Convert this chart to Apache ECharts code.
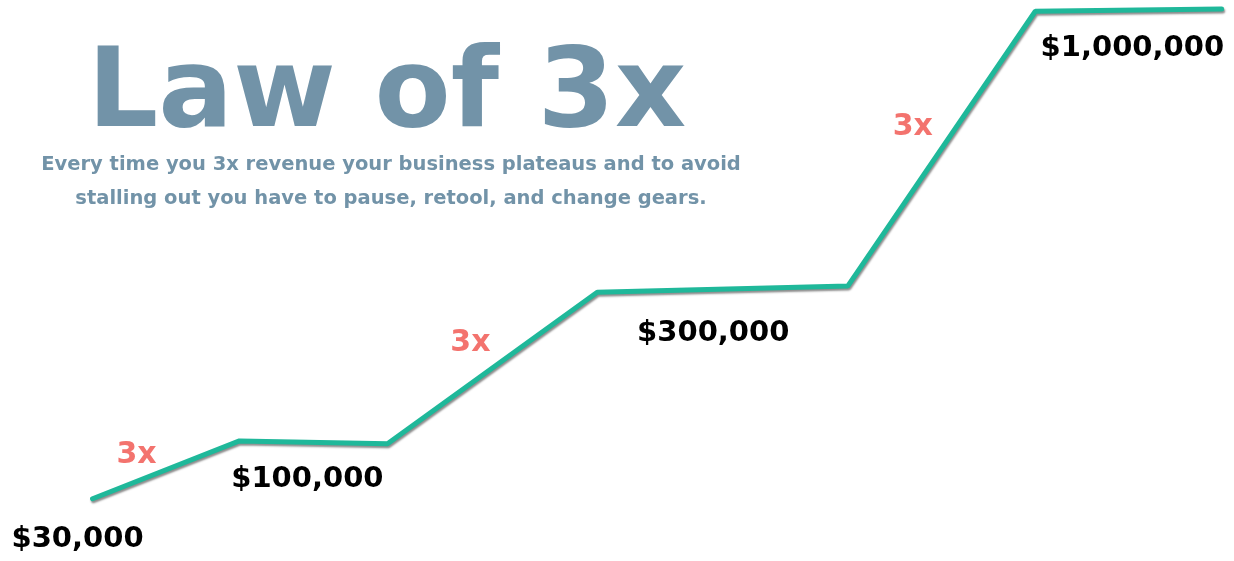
<!DOCTYPE html>
<html lang="en">
<head>
    <meta charset="UTF-8">
    <title>Law of 3x</title>
    <script src="https://cdn.jsdelivr.net/npm/echarts/dist/echarts.min.js"></script>
    <style>
        body { margin: 0; background: #ffffff; }
        #chart { width: 1234px; height: 561px; }
    </style>
</head>
<body>
<div id="chart"></div>
<script>
    // progress (x) and growth level (y), both on a 0-100 scale
    const progress = [7.5, 19.4, 31.4, 48.4, 68.7, 83.9, 99.0];
    const level = [11.1, 21.4, 20.9, 47.9, 49.0, 98.0, 98.4];
    // revenue label shown at each step ('' = none)
    const revenueLabels = ['$30,000', '$100,000', '', '$300,000', '', '$1,000,000', ''];
    // "3x" label at the start of each climb
    const multiplierLabels = ['3x', '', '3x', '', '3x', '', ''];

    const revenueOffsets = [[-15, 41], [68, 39], null, [116, 41], null, [97, 37], null];
    const multiplierOffsets = [[44, -44], null, [83, -101], null, [65, -159], null, null];

    const chart = echarts.init(document.getElementById('chart'));

    const labelFont = 'DejaVu Sans';

    const lineData = progress.map((x, i) => {
        const item = { value: [x, level[i]] };
        if (revenueLabels[i]) {
            item.label = {
                show: true,
                formatter: revenueLabels[i],
                position: 'inside',
                offset: revenueOffsets[i],
                color: '#000',
                fontFamily: labelFont,
                fontWeight: 'bold',
                fontSize: 29
            };
        }
        return item;
    });

    const multData = [];
    progress.forEach((x, i) => {
        if (multiplierLabels[i]) {
            multData.push({
                value: [x, level[i]],
                label: {
                    show: true,
                    formatter: multiplierLabels[i],
                    position: 'inside',
                    offset: multiplierOffsets[i],
                    color: '#f0504a',
                    fontFamily: labelFont,
                    fontWeight: 'bold',
                    fontSize: 30
                }
            });
        }
    });

    const option = {
        animation: false,
        backgroundColor: '#ffffff',
        title: [{
            text: 'Law of 3x',
            left: 382,
            top: 32,
            textAlign: 'center',
            textStyle: {
                fontFamily: labelFont,
                fontWeight: 'bold',
                fontSize: 111,
                lineHeight: 120,
                color: '#7293a8'
            }
        }, {
            text: 'Every time you 3x revenue your business plateaus and to avoid\nstalling out you have to pause, retool, and change gears.',
            left: 386,
            top: 143,
            textAlign: 'center',
            textStyle: {
                fontFamily: labelFont,
                fontWeight: 'bold',
                fontSize: 19.5,
                lineHeight: 34,
                color: '#7293a8'
            }
        }],
        grid: { left: 0, right: 0, top: 0, bottom: 0 },
        xAxis: { type: 'value', min: 0, max: 100, show: false },
        yAxis: { type: 'value', min: 0, max: 100, show: false },
        series: [{
            type: 'line',
            data: lineData,
            symbol: 'circle',
            symbolSize: 1,
            itemStyle: { color: 'rgba(0,0,0,0)' },
            lineStyle: {
                color: '#1fb89a',
                width: 5,
                cap: 'round',
                shadowColor: 'rgba(0,0,0,0.45)',
                shadowBlur: 2,
                shadowOffsetX: 1,
                shadowOffsetY: 2
            },
            z: 2
        }, {
            type: 'scatter',
            data: multData,
            symbolSize: 1,
            itemStyle: { color: 'rgba(0,0,0,0)' },
            z: 3
        }]
    };

    chart.setOption(option);
</script>
</body>
</html>
